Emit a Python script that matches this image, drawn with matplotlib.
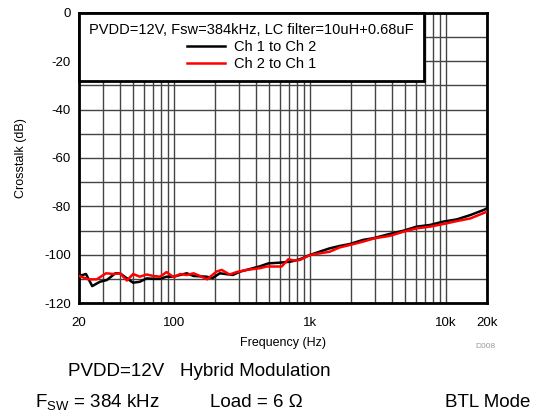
import numpy as np
import matplotlib
matplotlib.use("Agg")
import matplotlib.pyplot as plt
from matplotlib.ticker import FixedLocator, NullFormatter

plt.rcParams["font.family"] = ["Liberation Sans", "DejaVu Sans"]
plt.rcParams["mathtext.default"] = "regular"
plt.rcParams["axes.unicode_minus"] = False

# Ch 1 -> Ch 2 crosstalk
freq_ch1 = [20, 22.5, 25, 28.5, 32, 37, 40, 45, 50, 56, 63, 70, 79, 88, 99, 124, 139, 172,
            193, 217, 270, 306, 342, 428, 494, 600, 715, 842, 1000, 1170, 1390, 1650, 1960,
            2450, 2915, 3870, 4850, 6080, 7630, 9580, 12000, 15100, 18900, 20000]
db_ch1 = [-108.8, -108.0, -113.0, -111.2, -110.5, -107.7, -107.7, -109.8, -111.6, -111.2,
          -109.8, -110.0, -110.0, -109.1, -109.1, -107.7, -108.8, -109.1, -109.6, -107.7,
          -108.4, -107.0, -106.3, -104.8, -103.6, -103.3, -102.9, -101.9, -100.1, -98.8,
          -97.4, -96.4, -95.6, -93.9, -93.2, -91.4, -90.1, -88.4, -87.7, -86.3, -85.4,
          -83.6, -81.5, -80.8]

# Ch 2 -> Ch 1 crosstalk
freq_ch2 = [20, 23.4, 27, 31.6, 36, 40, 45, 50, 56, 63, 70, 79, 88, 99, 111, 124, 139, 155,
            175, 205, 224, 256, 288, 342, 428, 478, 618, 692, 760, 842, 1000, 1390, 1650,
            1960, 2450, 3000, 3870, 4850, 6080, 7630, 9580, 12000, 15100, 20000]
db_ch2 = [-108.8, -110.2, -110.2, -107.7, -108.0, -107.7, -110.7, -108.0, -109.1, -108.2,
          -108.8, -109.1, -107.2, -109.3, -108.0, -108.4, -107.7, -108.8, -110.2, -107.0,
          -106.3, -108.2, -107.2, -106.3, -105.6, -104.9, -104.9, -101.9, -102.4, -102.2,
          -100.1, -98.8, -97.0, -96.0, -94.6, -93.2, -92.2, -90.5, -89.1, -88.4, -87.3,
          -86.1, -85.0, -82.2]

xticks = [20, 100, 1000, 10000, 20000]
xtick_labels = ["20", "100", "1k", "10k", "20k"]
yticks = [0, -20, -40, -60, -80, -100, -120]

fig = plt.figure(figsize=(5.45, 4.16), dpi=100)
ax = fig.add_axes([0.145, 0.2716, 0.7486, 0.6972])

ax.plot(freq_ch1, db_ch1, color="black", lw=1.8, label="Ch 1 to Ch 2", zorder=3)
ax.plot(freq_ch2, db_ch2, color="#ff0000", lw=1.8, label="Ch 2 to Ch 1", zorder=3)

ax.set_xscale("log")
ax.set_xlim(20, 20000)
ax.set_ylim(-120, 0)
ax.set_xticks(xticks)
ax.set_xticklabels(xtick_labels)
minors = [m * 10 ** e for e in range(1, 5) for m in range(2, 10) if 20 < m * 10 ** e < 20000]
ax.xaxis.set_minor_locator(FixedLocator(minors))
ax.xaxis.set_minor_formatter(NullFormatter())
ax.set_yticks(yticks)
ax.yaxis.set_minor_locator(FixedLocator(np.arange(-110, 0, 20)))
ax.tick_params(which="both", length=0, labelsize=9.5)
ax.tick_params(axis="x", pad=10)
ax.tick_params(axis="y", pad=6)
ax.grid(which="both", color="#444444", lw=1.0)
for s in ax.spines.values():
    s.set_linewidth(2.0)

ax.set_xlabel("Frequency (Hz)", fontsize=9, labelpad=6)
ax.set_ylabel("Crosstalk (dB)", fontsize=9, labelpad=12)

leg = ax.legend(title="PVDD=12V, Fsw=384kHz, LC filter=10uH+0.68uF", loc="upper left",
                borderaxespad=0, fancybox=False, framealpha=1, edgecolor="black",
                fontsize=10.5, title_fontsize=10.5, alignment="center", handlelength=2.6,
                labelspacing=0.2, borderpad=0.7, handletextpad=0.6)
leg.get_frame().set_linewidth(2.0)
leg.set_zorder(5)

fig.text(0.89, 0.163, "D008", fontsize=6, color="#999999", ha="center")
fig.text(0.125, 0.095, "PVDD=12V   Hybrid Modulation", fontsize=13.5)
fig.text(0.064, 0.022, "F$_{SW}$ = 384 kHz", fontsize=13.5)
fig.text(0.385, 0.022, "Load = 6 \u03a9", fontsize=13.5)
fig.text(0.817, 0.022, "BTL Mode", fontsize=13.5)

fig.savefig("out.png", dpi=100)
